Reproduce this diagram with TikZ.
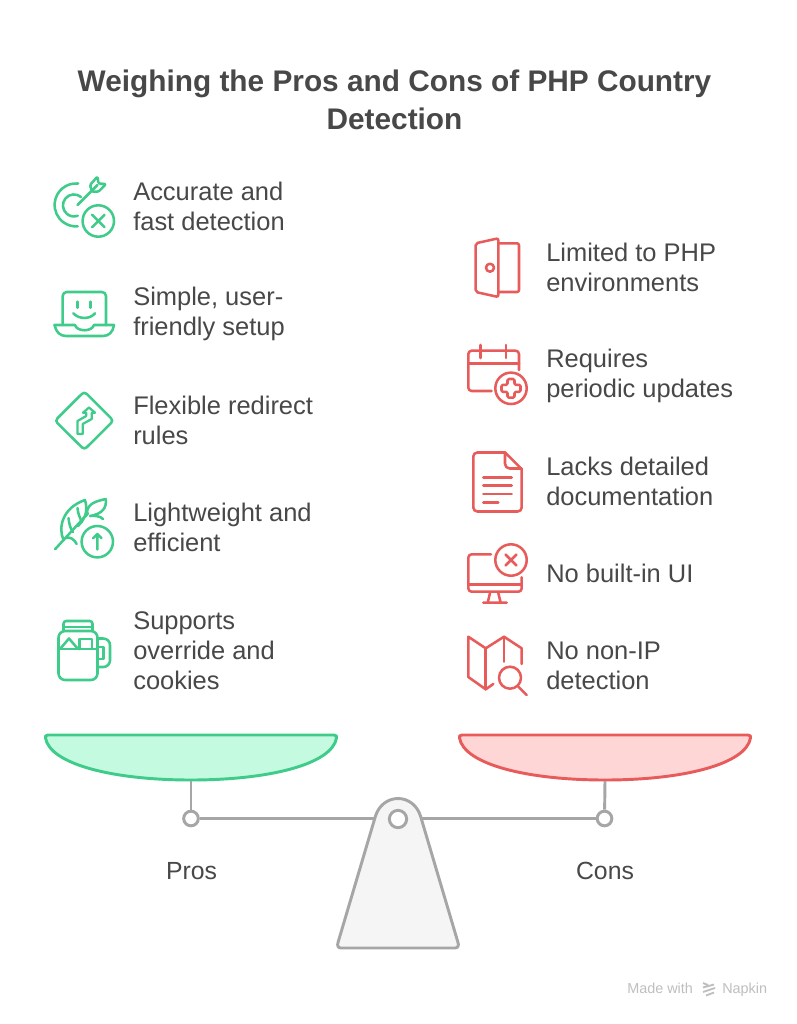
\documentclass[tikz,border=0pt]{standalone}
\usepackage{fontspec}
\setmainfont{Liberation Sans}
\usetikzlibrary{positioning}
\definecolor{progreen}{HTML}{3FCB8A}
\definecolor{conred}{HTML}{E85B5B}
\definecolor{prosfill}{HTML}{C4FBE0}
\definecolor{consfill}{HTML}{FFD6D6}
\definecolor{inktext}{HTML}{484848}
\definecolor{beamgray}{HTML}{A6A6A6}

\begin{document}
\begin{tikzpicture}[
    x=0.75pt, y=-0.75pt,
    heading/.style={font=\fontsize{22.35}{28.5}\selectfont\bfseries, text=inktext, align=center, inner sep=0pt},
    itemtext/.style={anchor=west, font=\fontsize{19.1}{22.5}\selectfont, text=inktext, align=left, inner sep=0pt},
    scalelabel/.style={font=\fontsize{18.6}{22.5}\selectfont, text=inktext, inner sep=0pt},
    footer/.style={anchor=base west, font=\fontsize{10.8}{12}\selectfont, text=black!25, inner sep=0pt},
    proicon/.style={draw=progreen, line width=1.9pt, line cap=round, line join=round},
    conicon/.style={draw=conred, line width=1.9pt, line cap=round, line join=round},
    beam/.style={draw=beamgray, line width=2.2pt},
    ring/.style={circle, draw=beamgray, fill=white, line width=2.2pt, minimum size=12.5pt, inner sep=0pt}
]
\useasboundingbox (0,0) rectangle (796,1024);
\fill[white] (0,0) rectangle (796,1024);

% Title
\node[heading] (title) at (394.5,100) {Weighing the Pros and Cons of PHP Country\\Detection};

% Pros text
\node[itemtext] (accurate) at (133,206.5) {Accurate and\\fast detection};
\node[itemtext] (simple) at (133,313.5) {Simple, user-\\friendly setup};
\node[itemtext] (flexible) at (133,420.5) {Flexible redirect\\rules};
\node[itemtext] (light) at (133,527.5) {Lightweight and\\efficient};
\node[itemtext] (override) at (133,650.5) {Supports\\override and\\cookies};

% Cons text
\node[itemtext] (limited) at (546,267.5) {Limited to PHP\\environments};
\node[itemtext] (updates) at (546,375.5) {Requires\\periodic updates};
\node[itemtext] (docs) at (546,481.5) {Lacks detailed\\documentation};
\node[itemtext] (noui) at (546,573.5) {No built-in UI};
\node[itemtext] (nonip) at (546,665.5) {No non-IP\\detection};

% Target icon
\begin{scope}[proicon]
\draw (78,183.5) arc (-85:-274:21.5);
\draw (81,197) arc (-50:-290:11);
\draw (77.5,205) -- (97.5,185);
\draw[rounded corners=1pt] (90,185) -- (97.5,176.5) -- (98.5,183.5) -- (106,184) -- (98.5,191.7) -- (92,191.7) -- cycle;
\draw (98.3,221) circle (15.7);
\draw (92,214.7) -- (104.6,227.3) (104.6,214.7) -- (92,227.3);
\end{scope}

% Laptop icon
\begin{scope}[proicon]
\draw[rounded corners=3pt] (62.7,325) -- (62.7,292) -- (106,292) -- (106,325);
\draw (77.7,301.7) -- (77.7,307.7) (90.7,301.7) -- (90.7,307.7);
\draw (73.3,313.3) .. controls (79,319.5) and (90,319.5) .. (95,313.3);
\draw (54.5,325) -- (75,325) .. controls (77,332) and (92,332) .. (94,325) -- (114,325);
\draw (54.5,325) .. controls (56,332) and (60,336) .. (66,336) -- (103,336) .. controls (109,336) and (113,332) .. (114,325);
\end{scope}

% Road sign icon
\begin{scope}[proicon]
\draw[rounded corners=2.5pt] (84.3,391.5) -- (113.5,420.7) -- (84.3,449.7) -- (55,420.7) -- cycle;
\draw[line width=1.7pt] (77.5,434) -- (82.7,434) -- (82.7,424) -- (91.7,419) -- (91.7,412.7) -- (95,412.7) -- (89,407.5) -- (83,412.7) -- (86.2,412.7) -- (86.2,416) -- (77.5,421) -- cycle;
\end{scope}

% Feather icon
\begin{scope}[proicon]
\draw (55,549.3) -- (88,513.3);
\draw (86.7,515) .. controls (87,505) and (92,502) .. (105.7,499) .. controls (107,508) and (102,514) .. (90,516) .. controls (95,515.5) and (100,516) .. (103,519);
\draw (63.5,540) .. controls (58,528) and (62,508) .. (85,500) .. controls (88,510) and (86,518) .. (78,526);
\draw (66,538) .. controls (70,536.5) and (74,539) .. (76.7,544);
\draw (68.5,518) .. controls (69,524) and (71,530) .. (73,532);
\draw (77.5,508) .. controls (78,514) and (80,518) .. (82,522);
\draw (97.3,541.7) circle (15.7);
\draw (97.3,549.5) -- (97.3,534) (93,538.3) -- (97.3,534) -- (101.6,538.3);
\end{scope}

% Mug icon
\begin{scope}[proicon]
\draw[rounded corners=2pt] (63.5,631) -- (63.5,621) -- (92.5,621) -- (92.5,631);
\draw (63.5,627) -- (92.5,627);
\draw[rounded corners=5pt] (58.5,631) -- (97.5,631) -- (97.5,680) -- (58.5,680) -- cycle;
\draw (58.5,649) -- (97.5,649);
\draw (60,649) -- (69,638.5) -- (78,649);
\draw (79.5,649) -- (79.5,639) -- (92,639) -- (92,649);
\draw[rounded corners=5pt] (97.5,638.5) -- (110,638.5) -- (110,667) -- (97.5,667);
\draw (97.5,647) -- (103.5,647) -- (103.5,659) -- (97.5,659);
\end{scope}

% Door icon
\begin{scope}[conicon]
\draw[rounded corners=1.5pt] (475.7,243.3) -- (498.3,238.3) -- (498.3,297) -- (475.7,292) -- cycle;
\draw[rounded corners=1.5pt] (498.3,243.3) -- (519,243.3) -- (519,292) -- (498.3,292);
\draw (490,267.7) circle (4);
\end{scope}

% Calendar icon
\begin{scope}[conicon]
\draw[rounded corners=2.5pt] (491.7,391) -- (468.3,391) -- (468.3,350.7) -- (519,350.7) -- (519,370);
\draw (468.3,363.3) -- (519,363.3);
\draw (480.7,345) -- (480.7,358) (506,345) -- (506,358);
\draw (511,388.3) circle (15.7);
\draw[rounded corners=1pt] (507.5,379) -- (514.5,379) -- (514.5,384.8) -- (520.5,384.8) -- (520.5,391.8) -- (514.5,391.8) -- (514.5,397.7) -- (507.5,397.7) -- (507.5,391.8) -- (501.5,391.8) -- (501.5,384.8) -- (507.5,384.8) -- cycle;
\end{scope}

% Document icon
\begin{scope}[conicon]
\draw[rounded corners=3pt] (505,452.5) -- (473.3,452.5) -- (473.3,511.5) -- (521.7,511.5) -- (521.7,469);
\draw (505,452.5) -- (521.7,469);
\draw[rounded corners=3.5pt] (505,452.5) -- (505,468.5) -- (521.7,468.5);
\draw (483.3,477.7) -- (511.7,477.7) (483.3,485.7) -- (511.7,485.7) (483.3,494) -- (511.7,494) (483.3,502.3) -- (498.3,502.3);
\end{scope}

% Monitor icon
\begin{scope}[conicon]
\draw[rounded corners=2.5pt] (491,554.3) -- (468.3,554.3) -- (468.3,591.7) -- (521.7,591.7) -- (521.7,577.3);
\draw (468.3,584.3) -- (521.7,584.3);
\draw (490,593) -- (487.7,602.7) (498.3,593) -- (500.7,602.7) (483.3,602.7) -- (506.7,602.7);
\draw (511,560) circle (15.7);
\draw (505.5,554.5) -- (516.5,565.5) (516.5,554.5) -- (505.5,565.5);
\end{scope}

% Map icon
\begin{scope}[conicon]
\draw (493.3,684) -- (485.7,689.3) -- (468.3,677) -- (468.3,636.7) -- (485.7,648.3) -- (504,636.7) -- (521.7,648.3) -- (521.7,664);
\draw (485.7,648.3) -- (485.7,689.3);
\draw (504,636.7) -- (504,661.7);
\draw (510,677.7) circle (11);
\draw (518.3,686.7) -- (526.7,695);
\end{scope}

% Pans
\draw[draw=progreen, fill=prosfill, line width=2.2pt, line join=round] (48,735) -- (334,735) .. controls (336.5,735) and (337,736.5) .. (336.5,738) .. controls (332,764) and (270,780) .. (191,780) .. controls (112,780) and (50,764) .. (45.5,738) .. controls (45,736.5) and (45.5,735) .. (48,735) -- cycle;
\draw[draw=conred, fill=consfill, line width=2.2pt, line join=round] (462,735) -- (748,735) .. controls (750.5,735) and (751,736.5) .. (750.5,738) .. controls (746,764) and (684,780) .. (605,780) .. controls (526,780) and (464,764) .. (459.5,738) .. controls (459,736.5) and (459.5,735) .. (462,735) -- cycle;
\coordinate (panleft) at (191,781);
\coordinate (panright) at (605,781);

% Beam and rods
\node[ring, minimum size=11pt] (ringleft) at (191,818.5) {};
\node[ring, minimum size=11pt] (ringright) at (604.5,818.5) {};
\coordinate (pivot) at (398,818.5);
\draw[beam] (panleft) -- (ringleft);
\draw[beam] (panright) -- (ringright);
\draw[beam] (ringleft) -- (pivot);
\draw[beam] (ringright) -- (pivot);

% Fulcrum
\draw[draw=beamgray, fill=black!4, line width=2.2pt, line join=round] (341,948) .. controls (338,948) and (337,945.5) .. (338,942.5) -- (375.5,816) .. controls (379,805) and (388,798.5) .. (398,798.5) .. controls (408,798.5) and (417,805) .. (420.5,816) -- (458,942.5) .. controls (459,945.5) and (458,948) .. (455,948) -- cycle;
\node[ring, minimum size=13pt] (ringmid) at (398,819) {};

% Scale labels
\node[scalelabel] (pros) at (191.5,871) {Pros};
\node[scalelabel] (cons) at (605,871) {Cons};

% Footer
\node[footer] (made) at (627,993) {Made with};
\node[footer] (napkin) at (722,993) {Napkin};
\draw[black!25, line width=1.4pt] (703,983) -- (708,985) (703,987.5) -- (714,984.5) (703,992) -- (715,988) (706,995.5) -- (714,992.5);

\end{tikzpicture}
\end{document}
